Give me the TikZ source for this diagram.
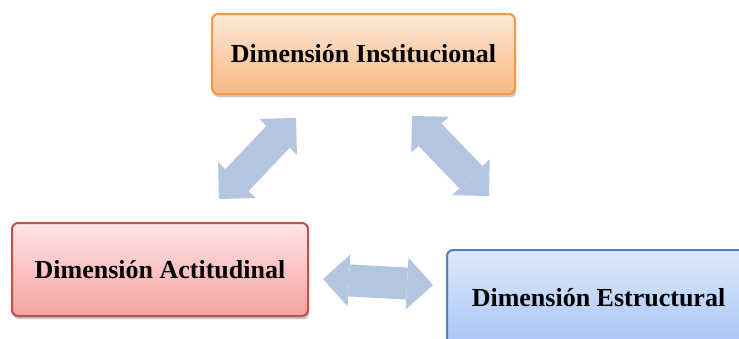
\documentclass[tikz,border=0pt]{standalone}
\usepackage{fontspec}
\setmainfont{Liberation Serif}
\usetikzlibrary{arrows.meta,shadows}

\definecolor{instTop}{RGB}{254,233,216}
\definecolor{instBot}{RGB}{250,184,130}
\definecolor{instLine}{RGB}{247,150,70}
\definecolor{actTop}{RGB}{255,229,229}
\definecolor{actBot}{RGB}{246,162,162}
\definecolor{actLine}{RGB}{192,80,77}
\definecolor{estrTop}{RGB}{222,233,251}
\definecolor{estrBot}{RGB}{166,197,246}
\definecolor{estrLine}{RGB}{79,129,189}
\definecolor{flechaBlue}{RGB}{180,197,224}

\tikzset{
    dimbox/.style={rectangle, rounded corners=3pt, line width=1pt,
        font=\bfseries\fontsize{13}{15}\selectfont, align=center,
        drop shadow={shadow xshift=0.6pt, shadow yshift=-1.6pt, fill=black, opacity=0.22}},
    dimflecha/.style={line width=16pt, draw=flechaBlue, line cap=butt,
        arrows={Triangle[width=26pt,length=13pt,line width=0pt]-Triangle[width=26pt,length=13pt,line width=0pt]}},
}

\begin{document}
\begin{tikzpicture}[x=0.5pt, y=-0.5pt]
        \useasboundingbox (0,0) rectangle (739,338);
        \clip (0,0) rectangle (739,338);
        \node[dimbox, draw=instLine, top color=instTop, bottom color=instBot,
              minimum width=151.5pt, minimum height=40pt] (inst) at (363.5, 54) {Dimensión Institucional};
        \node[dimbox, draw=actLine, top color=actTop, bottom color=actBot,
              minimum width=148pt, minimum height=46.5pt] (act) at (160, 269.5) {Dimensión Actitudinal};
        \node[dimbox, draw=estrLine, top color=estrTop, bottom color=estrBot,
              minimum width=151.5pt, minimum height=48pt] (estr) at (598.5, 298) {Dimensión Estructural};
        \coordinate (a1) at (219, 199);
        \coordinate (b1) at (296, 118);
        \coordinate (a2) at (412, 116);
        \coordinate (b2) at (489, 196);
        \coordinate (a3) at (323, 279);
        \coordinate (b3) at (433, 285);
        \draw[dimflecha] (a1) -- (b1);
        \draw[dimflecha] (a2) -- (b2);
        \draw[dimflecha] (a3) -- (b3);
    \end{tikzpicture}
\end{document}
